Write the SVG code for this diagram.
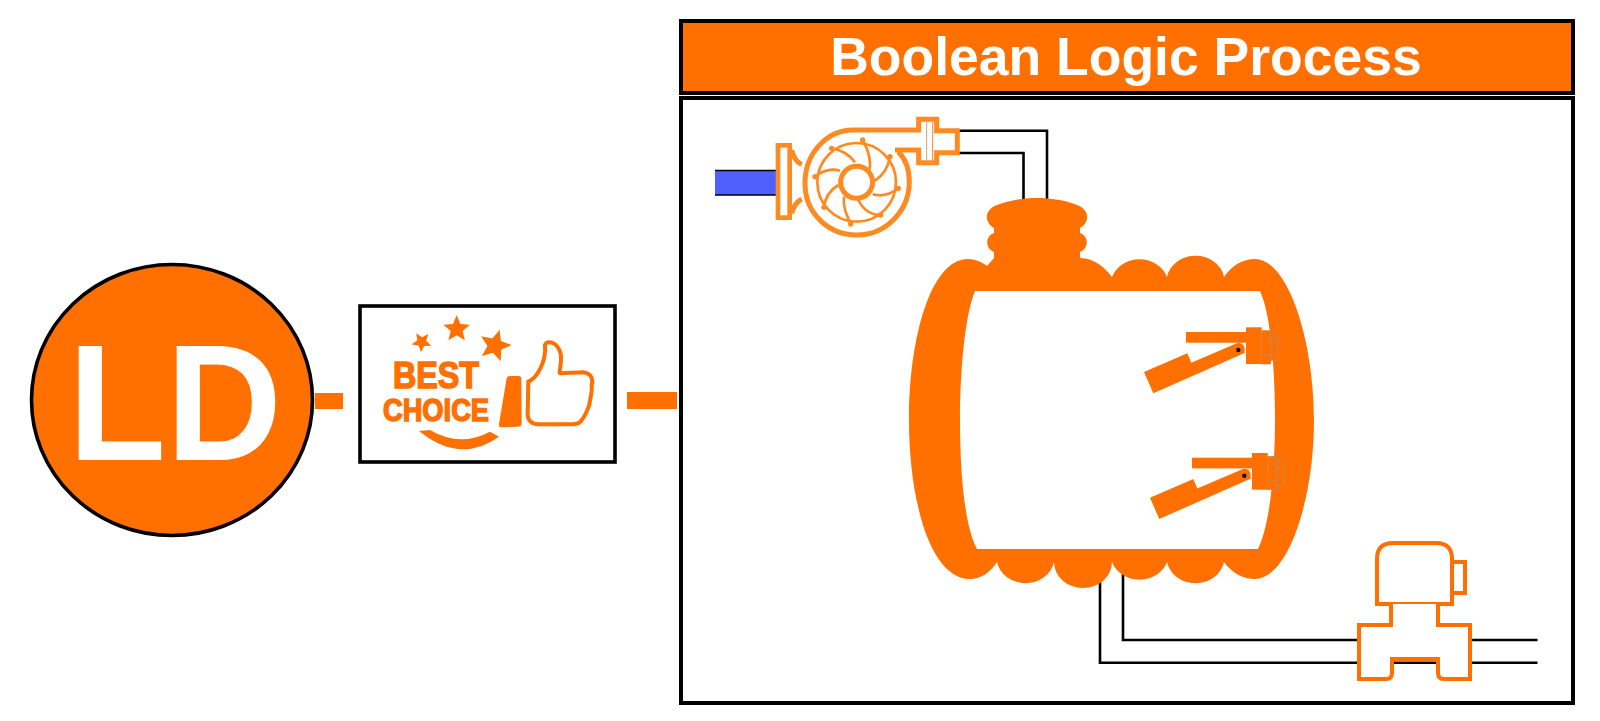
<svg xmlns="http://www.w3.org/2000/svg" width="1600" height="721" viewBox="0 0 1600 721">
<style>
.frame{fill:#fff;stroke:#000;stroke-width:4}
.org{fill:#ff7000}
.pipe{fill:none;stroke:#000;stroke-width:2.6}
.line{fill:#fff;stroke:#ff7000;stroke-width:4}
.nut{fill:#ff7000;stroke:#b98a66;stroke-width:.7}
.nutline{fill:none;stroke:#b98a66;stroke-width:.7}
text{font-family:"Liberation Sans",Arial,sans-serif;font-weight:700}
</style>
<defs>
<polygon id="star" points="0,-100 26.5,-36.4 95.1,-30.9 42.8,13.9 58.8,80.9 0,45 -58.8,80.9 -42.8,13.9 -95.1,-30.9 -26.5,-36.4"/>
<g id="sensor">
<rect class="org" x="1186" y="332" width="62" height="10.7"/>
<path class="org" d="M1144 372L1187.3 353.300L1191.300 362.700L1238 342.700Q1246 343 1244.500 353L1153.300 393.300Z"/>
<rect x="1261.700" y="330.700" width="9" height="33.300" class="nut"/>
<path class="nut" d="M1270.700 333.500L1278 335V358L1270.700 361Z"/>
<path class="nutline" d="M1261.700 339.500H1270.700M1261.700 355H1270.700M1270.700 343H1278"/>
<rect x="1246" y="327.300" width="15.700" height="36.700" class="org"/>
<circle cx="1238.300" cy="350" r="2.200" fill="#111"/>
</g>
</defs>
<rect width="1600" height="721" fill="#fff"/>
<g id="connectors">
<rect class="org" x="315" y="393" width="28" height="16"/>
<rect class="org" x="627" y="392" width="50" height="17"/>
</g>
<g id="ld-node">
<ellipse cx="172" cy="400" rx="140.500" ry="135.500" fill="#ff7000" stroke="#000" stroke-width="3.600"/>
<text x="175" y="460" font-size="165" fill="#fff" text-anchor="middle" textLength="214" lengthAdjust="spacingAndGlyphs">LD</text>
</g>
<g id="best-choice">
<rect x="360" y="306" width="255" height="156" fill="#fff" stroke="#000" stroke-width="3.600"/>
<g transform="translate(350 295) scale(.3333)" class="org">
<use href="#star" transform="translate(320 102) scale(.42)"/>
<use href="#star" transform="translate(215 141) rotate(40) scale(.31)"/>
<use href="#star" transform="translate(435 152) rotate(16) scale(.5)"/>
<path d="M207,408L240,405Q330,458 420,410L447,425Q330,508 207,408Z"/>
<path d="M470,250Q472,243 480,243L505,243Q514,243 514,252L515,385Q515,395 505,395L455,397Q445,397 447,387Z"/>
<path d="M535,260C560,250 590,200 585,150C590,135 620,140 630,170C640,190 625,235 630,235L700,232C725,235 730,255 725,270C728,290 720,310 718,330C712,345 705,365 695,375C690,385 680,387 670,388L565,388C545,388 533,375 533,360Z" fill="#fff" stroke="#ff7000" stroke-width="12"/>
</g>
<text x="436" y="388" font-size="36" fill="#ff7000" stroke="#ff7000" stroke-width="1.500" text-anchor="middle" textLength="86" lengthAdjust="spacingAndGlyphs">BEST</text>
<text x="436" y="421" font-size="31" fill="#ff7000" stroke="#ff7000" stroke-width="1.500" text-anchor="middle" textLength="106" lengthAdjust="spacingAndGlyphs">CHOICE</text>
</g>
<g id="title">
<rect x="681" y="21" width="892" height="72" fill="#ff7000" stroke="#000" stroke-width="4"/>
<text x="1126" y="75" font-size="53.500" fill="#fff" text-anchor="middle">Boolean Logic Process</text>
</g>
<rect id="process-frame" class="frame" x="681" y="98" width="892" height="605"/>
<g id="pipes">
<path class="pipe" d="M958 130.700H1047V205M958 153H1023.500V205"/>
<path class="pipe" d="M1100 570V662.700H1537.500M1123 570V640H1537.500"/>
</g>
<g id="feed">
<rect x="715" y="170.500" width="61" height="24.500" fill="#4f60ff"/>
<path d="M715 170.500H776M715 195H776" stroke="#000" stroke-width="1.500" fill="none"/>
</g>
<g id="pump" transform="translate(690 100) scale(.3333)">
<rect x="264" y="136" width="35" height="217" fill="#fff" stroke="#ff8a22" stroke-width="14"/>
<path fill="none" stroke="#ff8a22" stroke-width="15" d="M305 150C310 172 320 186 335 194M335 297C320 305 310 320 305 340"/>
<path d="M615 150H686V188H740V158H802V92H740V58H686V90H490C410 90 345 160 345 250C345 340 415 405 500 405C590 405 658 330 658 245C658 205 645 175 625 155" fill="#fff" stroke="#ff8a22" stroke-width="15"/>
<path d="M710 66V180" stroke="#d9a27a" stroke-width="3" fill="none"/>
<path d="M728 66V180" stroke="#ff8a22" stroke-width="3" fill="none"/>
<circle cx="500" cy="247" r="118" fill="none" stroke="#ff8a22" stroke-width="8"/>
<g fill="none" stroke="#ff8a22" stroke-width="8">
<path d="M425 145C455 150 480 165 495 187"/>
<path d="M518 120C535 150 545 180 538 212"/>
<path d="M600 170C595 200 580 225 555 242"/>
<path d="M625 265C600 285 575 290 548 283"/>
<path d="M572 345C545 345 520 330 505 300"/>
<path d="M482 372C470 345 458 320 462 290"/>
<path d="M402 322C405 295 420 270 445 255"/>
<path d="M375 230C400 210 425 205 450 212"/>
</g>
<g fill="#ff8a22">
<circle cx="425" cy="145" r="8"/><circle cx="518" cy="120" r="8"/><circle cx="600" cy="170" r="8"/><circle cx="625" cy="265" r="8"/>
<circle cx="572" cy="345" r="8"/><circle cx="482" cy="372" r="8"/><circle cx="402" cy="322" r="8"/><circle cx="375" cy="230" r="8"/>
</g>
<circle cx="500" cy="247" r="48" fill="#fff" stroke="#ff8a22" stroke-width="15"/>
</g>
<g id="tank">
<path class="org" fill-rule="evenodd" d="M987 266L994 258V252C985 248 985 236 994 233V228C984 222 984 210 997 205C1010 200 1025 198 1037 198C1050 198 1065 200 1077 205C1090 210 1090 222 1080 228V233C1089 236 1089 248 1080 252V258C1095 258 1105 268 1112 277A29 26 0 0 1 1167 277A29 26 0 0 1 1224 277C1232 265 1243 259 1255 259C1288 259 1314 340 1314 420C1314 500 1288 579 1255 579C1243 579 1232 573 1224 562A29 26 0 0 1 1167 562A29 26 0 0 1 1112 562A29 26 0 0 1 1054 562A29 26 0 0 1 997 562C990 573 980 579 970 579C930 579 909 500 909 420C909 340 930 259 968 259C975 259 982 262 987 266ZM975 291C965 315 960 370 960 420C960 470 964 525 977 549H1258C1270 525 1275 470 1275 420C1275 370 1271 315 1260 291Z"/>
</g>
<use id="sensor-1" href="#sensor"/>
<use id="sensor-2" href="#sensor" transform="translate(6 125.700)"/>
<g id="valve">
<path class="line" d="M1452 562H1465V593H1452"/>
<path class="line" d="M1377 604V559Q1377 543 1393 543H1436Q1452 543 1452 559V604Z"/>
<path class="line" d="M1391 604V625H1359V679H1386Q1392 679 1392 673V659H1438V673Q1438 679 1444 679H1470V625H1438V604"/>
</g>
</svg>
